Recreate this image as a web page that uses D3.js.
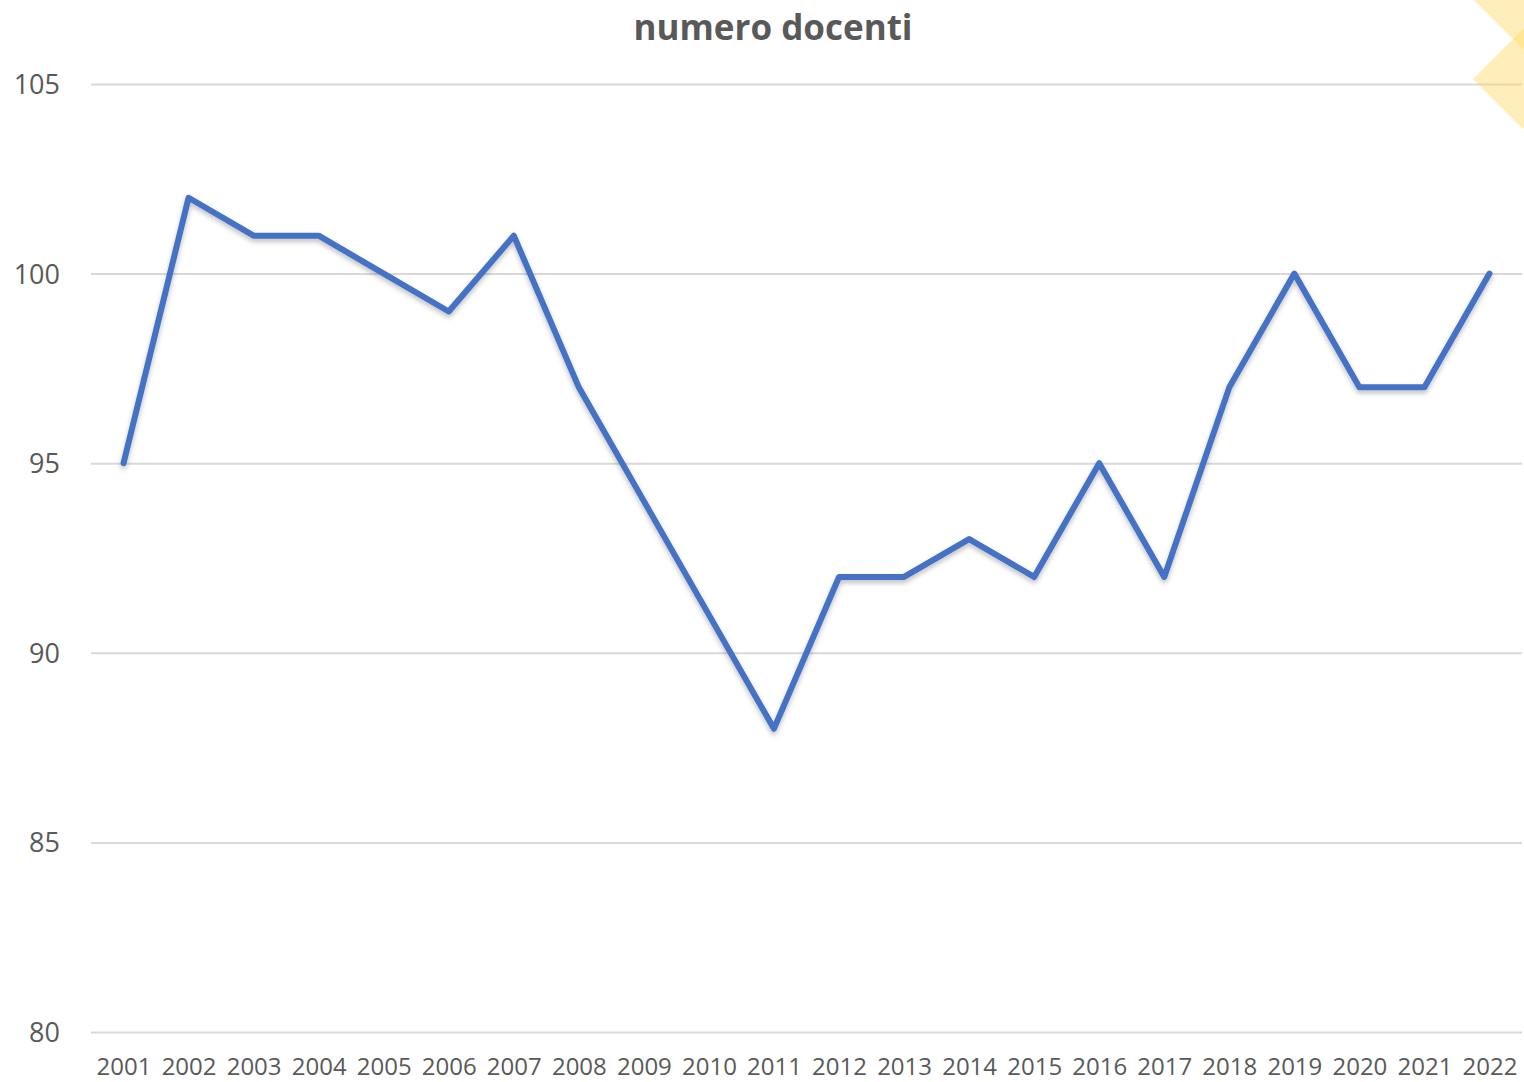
<!DOCTYPE html>
<meta charset="utf-8">
<style>
    body { margin: 0; background: #fff; }
    text { font-family: "Open Sans", "Noto Sans", sans-serif; fill: #595959; }
    .title { font-size: 35px; font-weight: bold; text-anchor: middle; }
    .tick text { font-size: 24px; }
    .grid .tick text { font-size: 27px; }
    .grid line { stroke: #d9d9d9; stroke-width: 2px; }
    .domain { display: none; }
</style>
<body>
<script src="https://d3js.org/d3.v7.min.js"></script>
<script>
    var years = ["2001","2002","2003","2004","2005","2006","2007","2008","2009","2010","2011",
                 "2012","2013","2014","2015","2016","2017","2018","2019","2020","2021","2022"];
    var docenti = [95, 102, 101, 101, 100, 99, 101, 97, 94, 91, 88,
                   92, 92, 93, 92, 95, 92, 97, 100, 97, 97, 100];
    var yTicks = [80, 85, 90, 95, 100, 105];

    var W = 1524, H = 1082;
    var plotL = 91, plotR = 1522, plotT = 84, plotB = 1032;

    var svg = d3.select("body").append("svg").attr("width", W).attr("height", H);

    var defs = svg.append("defs");
    var f = defs.append("filter").attr("id", "shadow").attr("x", "-5%").attr("y", "-5%")
        .attr("width", "110%").attr("height", "110%");
    f.append("feDropShadow").attr("dx", 0).attr("dy", 3).attr("stdDeviation", 2.5)
        .attr("flood-color", "#000").attr("flood-opacity", 0.25);

    var x = d3.scalePoint().domain(years).range([plotL, plotR]).padding(0.5);
    var y = d3.scaleLinear().domain([80, 105]).range([plotB, plotT]);

    // gridlines + y labels
    var ga = svg.append("g").attr("class", "grid")
        .attr("transform", "translate(" + plotL + ",0)")
        .call(d3.axisLeft(y).tickValues(yTicks).tickSize(-(plotR - plotL)).tickPadding(31));
    ga.selectAll(".tick text").attr("dy", "0.35em");

    // x labels
    var xa = svg.append("g").attr("transform", "translate(0," + plotB + ")")
        .call(d3.axisBottom(x).tickSize(0).tickPadding(26));
    xa.selectAll(".tick text").attr("dy", "0.71em");

    // decorative diamonds top right
    var deco = svg.append("g").attr("fill", "#ffd966").attr("fill-opacity", 0.45);
    [[1524, 0], [1523, 79]].forEach(function(c) {
        var h = 50;
        deco.append("polygon").attr("points",
            [[c[0] - h, c[1]], [c[0], c[1] - h], [c[0] + h, c[1]], [c[0], c[1] + h]].join(" "));
    });

    svg.append("path")
        .datum(docenti)
        .attr("fill", "none")
        .attr("stroke", "#4472c4")
        .attr("stroke-width", 6)
        .attr("stroke-linejoin", "round")
        .attr("stroke-linecap", "round")
        .attr("filter", "url(#shadow)")
        .attr("d", d3.line().x((d, i) => x(years[i])).y(d => y(d)));

    svg.append("text").attr("class", "title").attr("x", 773).attr("y", 40).text("numero docenti");
</script>
</body>
